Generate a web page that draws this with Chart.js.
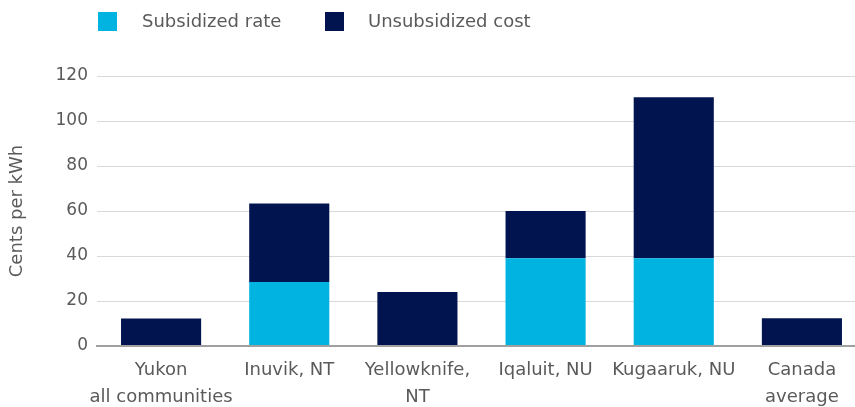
<!DOCTYPE html>
<html>
<head>
<meta charset="utf-8">
<script src="https://cdn.jsdelivr.net/npm/chart.js@4/dist/chart.umd.min.js"></script>
<style>
  html, body { margin: 0; padding: 0; background: #fff; overflow: hidden; }
  body { width: 855px; height: 407px; position: relative; font-family: "DejaVu Sans", sans-serif; }
  #wrap { position: absolute; left: 0; top: 0; width: 866px; height: 407px; }
  #legend { position: absolute; left: 0; top: 0; width: 855px; height: 40px; color: #5a5a5a; font-size: 18px; }
  #legend .box { position: absolute; top: 12px; width: 19px; height: 19px; }
  #legend .txt { position: absolute; top: 10px; line-height: 22px; white-space: nowrap; }
</style>
</head>
<body>
<div id="wrap"><canvas id="chart"></canvas></div>
<div id="legend"></div>
<script>
/* Electricity cost by northern community, cents per kWh.
   Two stacked pieces per bar: subsidized rate (bottom), unsubsidized remainder (top). */
(function () {
  'use strict';

  const CATEGORIES = [
    ['Yukon', 'all communities'],
    'Inuvik, NT',
    ['Yellowknife,', 'NT'],
    'Iqaluit, NU',
    'Kugaaruk, NU',
    ['Canada', 'average'],
  ];
  const SUBSIDIZED = [0, 28.5, 0, 39, 39, 0];
  const UNSUBSIDIZED = [12.2, 34.8, 24, 21, 71.6, 12.3];
  const Y_TICKS = [0, 20, 40, 60, 80, 100, 120];

  const SERIES = [
    { label: 'Subsidized rate', data: SUBSIDIZED, color: '#00b3e0' },
    { label: 'Unsubsidized cost', data: UNSUBSIDIZED, color: '#021450' },
  ];

  const TEXT = '#5a5a5a';
  const FONT = '"DejaVu Sans", sans-serif';

  // ------------------------------------------------------------ legend ----
  // html legend so the gaps can match the original layout
  const LEGEND_POS = [{ box: 98, txt: 142 }, { box: 325, txt: 368 }];
  document.getElementById('legend').innerHTML = SERIES.map((s, i) =>
    `<div class="box" style="left:${LEGEND_POS[i].box}px;background:${s.color}"></div>` +
    `<div class="txt" style="left:${LEGEND_POS[i].txt}px">${s.label}</div>`).join('');

  // ------------------------------------------------------------- chart ----
  new Chart(document.getElementById('chart'), {
    type: 'bar',
    data: {
      labels: CATEGORIES,
      datasets: SERIES.map(s => ({
        label: s.label, data: s.data, backgroundColor: s.color,
        borderWidth: 0, categoryPercentage: 1, barPercentage: 0.625,
      })),
    },
    options: {
      responsive: true, maintainAspectRatio: false, animation: false,
      layout: { padding: { top: 76, left: 0, right: 0, bottom: 0 } },
      plugins: { legend: { display: false }, tooltip: { enabled: false } },
      scales: {
        x: {
          stacked: true,
          grid: { display: false, drawTicks: false },
          border: { display: true, color: '#a0a0a0', width: 2 },
          ticks: {
            color: TEXT, padding: 11, maxRotation: 0, autoSkip: false,
            font: { family: FONT, size: 18, lineHeight: 1.5 },
          },
          afterFit: s => { s.height = 61; },
        },
        y: {
          stacked: true, min: 0, max: 120,
          afterBuildTicks: s => { s.ticks = Y_TICKS.map(v => ({ value: v })); },
          grid: {
            drawTicks: false,
            color: ctx => ctx.tick && ctx.tick.value === 0 ? '#a0a0a0' : '#d9d9d9',
            lineWidth: ctx => ctx.tick && ctx.tick.value === 0 ? 2 : 1,
          },
          border: { display: false },
          ticks: { color: TEXT, padding: 9, font: { family: FONT, size: 17 } },
          title: {
            display: true, text: 'Cents per kWh', color: TEXT,
            font: { family: FONT, size: 18 }, padding: { top: 7, bottom: 0 },
          },
          afterFit: s => { s.width = 97; },
        },
      },
    },
  });
})();
</script>
</body>
</html>
